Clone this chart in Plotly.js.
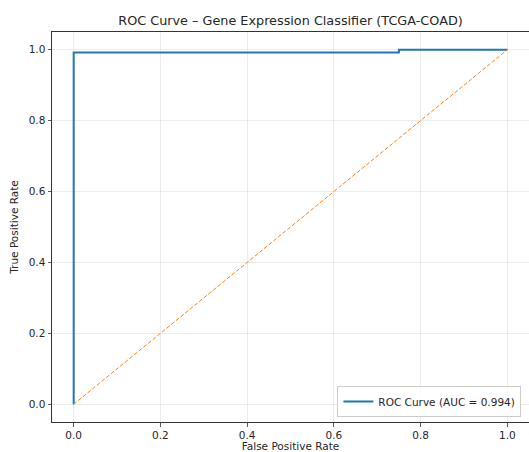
<!DOCTYPE html>
<html>
<head>
<meta charset="utf-8">
<script src="https://cdn.plot.ly/plotly-3.0.1.min.js"></script>
<style>html,body{margin:0;padding:0;background:#fff;}#chart{width:529px;height:452px;}</style>
</head>
<body>
<div id="chart"></div>
<script>
const fpr = [0.0, 0.0, 0.75, 0.75, 1.0];
const tpr = [0.0, 0.992, 0.992, 1.0, 1.0];
const chanceX = [0, 1];
const chanceY = [0, 1];
const rocLabel = 'ROC Curve (AUC = 0.994)';
const tickVals = [0.0, 0.2, 0.4, 0.6, 0.8, 1.0];

const font = {family: 'DejaVu Sans, sans-serif', color: '#262626', size: 10.5};
const axisCommon = {
  showline: true, mirror: true, linecolor: '#333', linewidth: 1,
  ticks: 'outside', ticklen: 3.5, tickwidth: 0.8, tickcolor: '#333',
  showgrid: true, gridcolor: 'rgba(176,176,176,0.3)', gridwidth: 0.8,
  zeroline: false, tickvals: tickVals, tickformat: '.1f',
  tickfont: {family: font.family, size: 10.5, color: '#262626'}
};

const data = [
  {x: fpr, y: tpr, mode: 'lines', name: rocLabel,
   line: {color: '#1f77b4', width: 2, shape: 'linear'}},
  {x: chanceX, y: chanceY, mode: 'lines', showlegend: false,
   line: {color: '#ff7f0e', width: 1, dash: '4px,2px'}}
];

const layout = {
  width: 529, height: 452,
  margin: {l: 52, r: 0, t: 32, b: 30},
  paper_bgcolor: '#fff', plot_bgcolor: '#fff',
  font: font,
  title: {text: 'ROC Curve – Gene Expression Classifier (TCGA-COAD)',
          font: {family: font.family, size: 12.8, color: '#262626'},
          x: 0.5, xref: 'paper', y: 0.955, yref: 'container', yanchor: 'middle'},
  xaxis: Object.assign({}, axisCommon, {range: [-0.05, 1.05],
          title: {text: 'False Positive Rate', font: {family: font.family, size: 10.5, color: '#262626'}, standoff: 11}}),
  yaxis: Object.assign({}, axisCommon, {range: [-0.05, 1.05],
          title: {text: 'True Positive Rate', font: {family: font.family, size: 10.5, color: '#262626'}, standoff: 8}}),
  showlegend: true,
  legend: {x: 0.984, y: 0.013, xanchor: 'right', yanchor: 'bottom',
           bgcolor: 'rgba(255,255,255,0.8)', bordercolor: '#cccccc', borderwidth: 1,
           font: {family: font.family, size: 10.5, color: '#262626'}}
};

Plotly.newPlot('chart', data, layout, {displayModeBar: false, staticPlot: true});
</script>
</body>
</html>
